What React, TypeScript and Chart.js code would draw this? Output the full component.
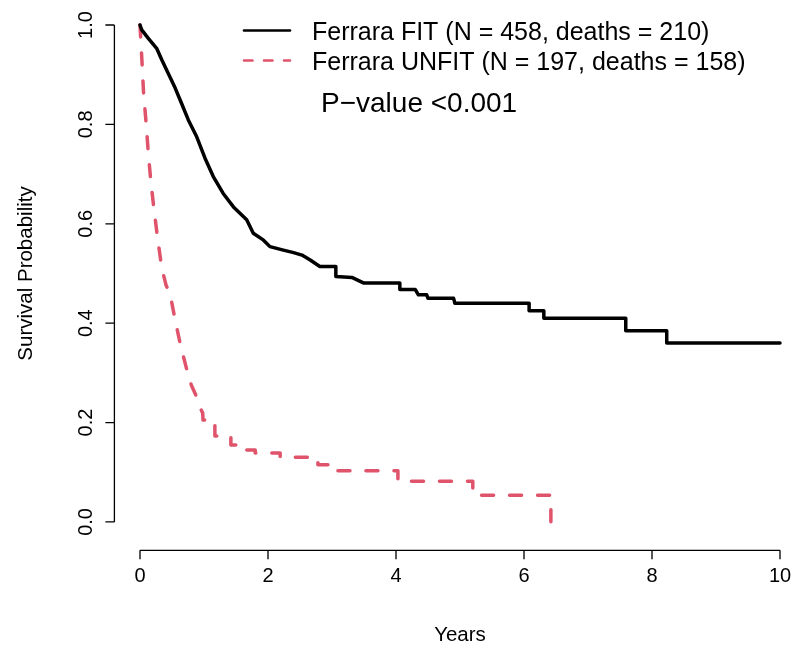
import React, { useEffect, useRef } from "react";
import { Chart, registerables } from "chart.js";

Chart.register(...registerables);

const fitTimes = [
  0, 0.027, 0.13, 0.26, 0.34, 0.44, 0.55, 0.65, 0.755, 0.886, 1.016, 1.145, 1.3, 1.46,
  1.667, 1.77, 1.93, 2.03, 2.24, 2.4, 2.53, 2.66, 2.81, 3.06, 3.06, 3.31, 3.49, 4.06,
  4.06, 4.3, 4.35, 4.48, 4.5, 4.9, 4.92, 6.08, 6.08, 6.31, 6.31, 7.59, 7.59, 8.23, 8.23, 10.0,
];
const fitSurv = [
  1.0, 0.99, 0.973, 0.953, 0.93, 0.903, 0.873, 0.842, 0.809, 0.775, 0.732, 0.695, 0.661, 0.634,
  0.608, 0.581, 0.567, 0.554, 0.547, 0.542, 0.537, 0.527, 0.514, 0.514, 0.494, 0.492, 0.481, 0.481,
  0.468, 0.468, 0.457, 0.457, 0.45, 0.45, 0.44, 0.44, 0.425, 0.425, 0.41, 0.41, 0.385, 0.385, 0.36, 0.36,
];

const unfitTimes = [
  0, 0.031, 0.055, 0.094, 0.13, 0.17, 0.22, 0.277, 0.34, 0.406, 0.47, 0.547, 0.636, 0.74, 0.8,
  0.87, 0.92, 0.98, 0.985, 1.17, 1.17, 1.42, 1.42, 1.64, 1.64, 1.8, 1.8, 2.19, 2.19, 2.78, 2.78,
  3.0, 3.0, 4.03, 4.03, 5.2, 5.2, 6.42, 6.42,
];
const unfitSurv = [
  1.0, 0.926, 0.865, 0.805, 0.742, 0.684, 0.628, 0.569, 0.511, 0.477, 0.459, 0.408, 0.354, 0.302, 0.276,
  0.256, 0.235, 0.219, 0.205, 0.205, 0.173, 0.173, 0.155, 0.155, 0.145, 0.145, 0.139, 0.139, 0.13, 0.13, 0.115,
  0.115, 0.103, 0.103, 0.082, 0.082, 0.054, 0.054, 0.0,
];

const xTickValues = [0, 2, 4, 6, 8, 10];
const xTickLabels = ["0", "2", "4", "6", "8", "10"];
const yTickValues = [0, 0.2, 0.4, 0.6, 0.8, 1.0];
const yTickLabels = ["0.0", "0.2", "0.4", "0.6", "0.8", "1.0"];

const seriesLabels = [
  "Ferrara FIT (N = 458, deaths = 210)",
  "Ferrara UNFIT (N = 197, deaths = 158)",
];
const seriesColors = ["#000000", "#DF536B"];
const pValueText = "P\u2212value <0.001";
const xTitle = "Years";
const yTitle = "Survival Probability";

const FONT = '"Liberation Sans", Arial, Helvetica, sans-serif';
const RED_DASH = [12, 16];
const LEGEND_DASH = [8.5, 11.5];

const rAxesPlugin = {
  id: "rAxes",
  afterDraw(chart: any) {
    const ctx = chart.ctx as CanvasRenderingContext2D;
    const xs = chart.scales.x;
    const ys = chart.scales.y;
    const ca = chart.chartArea;
    ctx.save();
    ctx.strokeStyle = "#000";
    ctx.fillStyle = "#000";
    ctx.lineWidth = 1.3;
    ctx.lineCap = "butt";
    ctx.setLineDash([]);

    // x axis
    const xAxisY = ca.bottom;
    const xt = xs.ticks.map((t: any) => t.value);
    ctx.beginPath();
    ctx.moveTo(xs.getPixelForValue(xt[0]), xAxisY);
    ctx.lineTo(xs.getPixelForValue(xt[xt.length - 1]), xAxisY);
    xt.forEach((v: number) => {
      const px = xs.getPixelForValue(v);
      ctx.moveTo(px, xAxisY);
      ctx.lineTo(px, xAxisY + 9);
    });
    ctx.stroke();
    ctx.font = `20px ${FONT}`;
    ctx.textAlign = "center";
    ctx.textBaseline = "alphabetic";
    xt.forEach((v: number, i: number) => {
      ctx.fillText(xTickLabels[i], xs.getPixelForValue(v), 582);
    });

    // y axis
    const yAxisX = ca.left;
    const yt = ys.ticks.map((t: any) => t.value);
    ctx.beginPath();
    ctx.moveTo(yAxisX, ys.getPixelForValue(yt[0]));
    ctx.lineTo(yAxisX, ys.getPixelForValue(yt[yt.length - 1]));
    yt.forEach((v: number) => {
      const py = ys.getPixelForValue(v);
      ctx.moveTo(yAxisX, py);
      ctx.lineTo(yAxisX - 9, py);
    });
    ctx.stroke();
    yt.forEach((v: number, i: number) => {
      ctx.save();
      ctx.translate(92, ys.getPixelForValue(v));
      ctx.rotate(-Math.PI / 2);
      ctx.fillText(yTickLabels[i], 0, 0);
      ctx.restore();
    });

    // axis titles
    ctx.font = `20.5px ${FONT}`;
    ctx.fillText(xTitle, (xs.getPixelForValue(xt[0]) + xs.getPixelForValue(xt[xt.length - 1])) / 2, 641);
    ctx.save();
    ctx.translate(32, (ys.getPixelForValue(yt[0]) + ys.getPixelForValue(yt[yt.length - 1])) / 2);
    ctx.rotate(-Math.PI / 2);
    ctx.fillText(yTitle, 0, 0);
    ctx.restore();

    // legend
    const legendY = [30.5, 60.5];
    const textBase = [40, 70];
    seriesLabels.forEach((lab, i) => {
      ctx.beginPath();
      ctx.strokeStyle = seriesColors[i];
      ctx.lineWidth = 2.6;
      ctx.lineCap = "round";
      ctx.setLineDash(i === 1 ? LEGEND_DASH : []);
      ctx.moveTo(244, legendY[i]);
      ctx.lineTo(290, legendY[i]);
      ctx.stroke();
      ctx.setLineDash([]);
      ctx.font = `25px ${FONT}`;
      ctx.textAlign = "left";
      ctx.fillStyle = "#000";
      ctx.fillText(lab, 312, textBase[i]);
    });
    ctx.font = `28px ${FONT}`;
    ctx.fillText(pValueText, 321, 112);
    ctx.restore();
  },
};

export default function App() {
  const ref = useRef<HTMLCanvasElement | null>(null);
  useEffect(() => {
    if (!ref.current) return;
    const chart = new Chart(ref.current, {
      type: "line",
      data: {
        datasets: [
          {
            label: seriesLabels[0],
            data: fitTimes.map((t, i) => ({ x: t, y: fitSurv[i] })),
            borderColor: seriesColors[0],
            borderWidth: 3.5,
            pointRadius: 0,
            tension: 0,
            fill: false,
            borderCapStyle: "round",
            borderJoinStyle: "round",
          },
          {
            label: seriesLabels[1],
            data: unfitTimes.map((t, i) => ({ x: t, y: unfitSurv[i] })),
            borderColor: seriesColors[1],
            borderWidth: 3.5,
            borderDash: RED_DASH,
            pointRadius: 0,
            tension: 0,
            fill: false,
            borderCapStyle: "round",
            borderJoinStyle: "round",
          },
        ],
      },
      options: {
        responsive: false,
        animation: false,
        maintainAspectRatio: false,
        layout: { padding: { left: 114.4, right: 0.2, top: 5.1, bottom: 94.7 } },
        plugins: { legend: { display: false }, tooltip: { enabled: false } },
        scales: {
          x: {
            type: "linear",
            min: -0.4,
            max: 10.2,
            display: false,
            afterBuildTicks: (s: any) => {
              s.ticks = xTickValues.map((v) => ({ value: v }));
            },
          },
          y: {
            type: "linear",
            min: -0.057,
            max: 1.04,
            display: false,
            afterBuildTicks: (s: any) => {
              s.ticks = yTickValues.map((v) => ({ value: v }));
            },
          },
        },
      },
      plugins: [rAxesPlugin],
    } as any);
    return () => chart.destroy();
  }, []);
  return (
    <div style={{ position: "fixed", left: 0, top: 0, width: 793, height: 645, background: "#fff" }}>
      <canvas ref={ref} width={793} height={645} style={{ display: "block" }} />
    </div>
  );
}
